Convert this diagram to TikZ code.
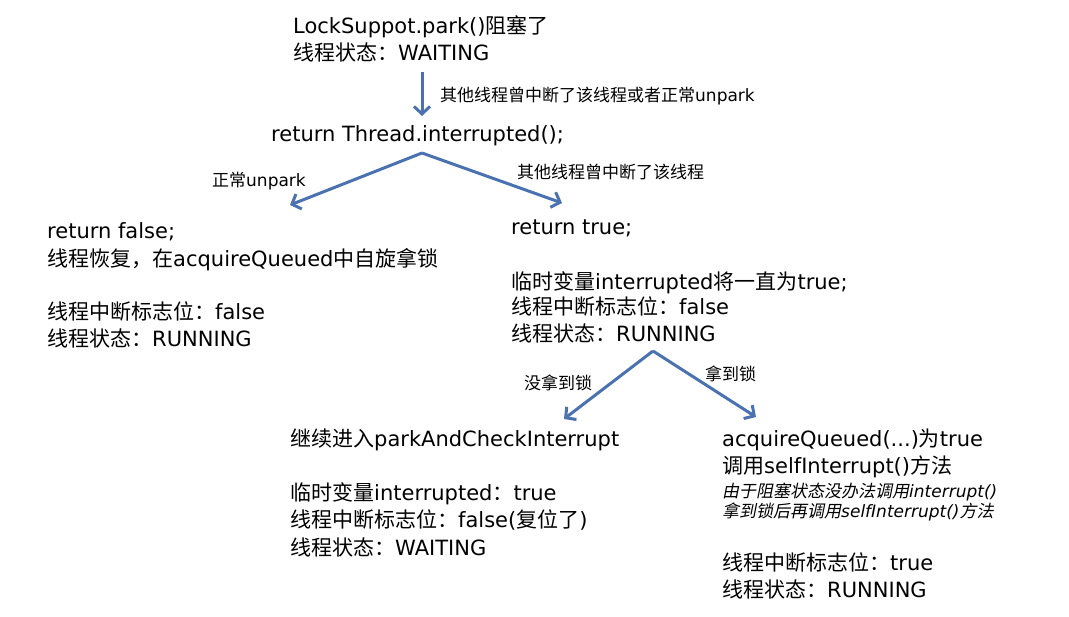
\documentclass[tikz,border=0pt]{standalone}
\usepackage{fontspec}
\setmainfont{DejaVu Sans}
\newfontfamily\cjk{Noto Sans CJK SC}
\newfontfamily\cjkit{Noto Sans CJK SC}[FakeSlant=0.2]
\usetikzlibrary{arrows.meta}
\definecolor{arrowblue}{RGB}{74,114,176}
\newcommand\zh[1]{{\cjk #1}}
\newcommand\zhi[1]{{\cjkit #1}}
\begin{document}
\begin{tikzpicture}[x=1pt,y=-1pt,
  txt/.style={anchor=base west, inner sep=0pt, font=\fontsize{21}{27}\selectfont},
  lbl/.style={anchor=base west, inner sep=0pt, font=\fontsize{17}{20}\selectfont},
  note/.style={anchor=base west, inner sep=0pt, font=\fontsize{17}{20}\selectfont\itshape},
  flow/.style={draw=arrowblue, line width=3pt, -{Straight Barb[length=7.5pt,width=16pt]}}]
\useasboundingbox (0,0) rectangle (1069,617);
% top
\node[txt] (t1) at (293,34) {LockSuppot.park()\zh{阻塞了}};
\node[txt] (t2) at (293,61) {\zh{线程状态：}WAITING};
\node[lbl] (l1) at (440,102) {\zh{其他线程曾中断了该线程或者正常}unpark};
\node[txt] (ret) at (271,142) {return Thread.interrupted();};
% branch labels
\node[lbl] (l2) at (212,187) {\zh{正常}unpark};
\node[lbl] (l3) at (517,179) {\zh{其他线程曾中断了该线程}};
% left block
\node[txt] (f1) at (47,239) {return false;};
\node[txt] (f2) at (47,267) {\zh{线程恢复，在}acquireQueued\zh{中自旋拿锁}};
\node[txt] (f3) at (47,320) {\zh{线程中断标志位：}false};
\node[txt] (f4) at (47,347) {\zh{线程状态：}RUNNING};
% right block
\node[txt] (r1) at (511,235) {return true;};
\node[txt] (r2) at (511,290) {\zh{临时变量}interrupted\zh{将一直为}true;};
\node[txt] (r3) at (511,315) {\zh{线程中断标志位：}false};
\node[txt] (r4) at (511,342) {\zh{线程状态：}RUNNING};
% second branch labels
\node[lbl] (l4) at (524,390) {\zh{没拿到锁}};
\node[lbl] (l5) at (705,381) {\zh{拿到锁}};
% bottom left
\node[txt] (b1) at (290,447) {\zh{继续进入}parkAndCheckInterrupt};
\node[txt] (b2) at (290,501) {\zh{临时变量}interrupted\zh{：}true};
\node[txt] (b3) at (290,528) {\zh{线程中断标志位：}false(\zh{复位了})};
\node[txt] (b4) at (290,555) {\zh{线程状态：}WAITING};
% bottom right
\node[txt] (c1) at (722,447) {acquireQueued(...)\zh{为}true};
\node[txt] (c2) at (722,474) {\zh{调用}selfInterrupt()\zh{方法}};
\node[note] (c3) at (722,497) {\zhi{由于阻塞状态没办法调用}interrupt()};
\node[note] (c4) at (722,518) {\zhi{拿到锁后再调用}selfInterrupt()\zhi{方法}};
\node[txt] (c5) at (722,570) {\zh{线程中断标志位：}true};
\node[txt] (c6) at (722,597) {\zh{线程状态：}RUNNING};
% connectors
\coordinate (p0) at (422,72);
\coordinate (p0e) at (422,116);
\coordinate (p1) at (422,153);
\coordinate (p1l) at (290,205);
\coordinate (p1r) at (562,203);
\coordinate (p2) at (653,351);
\coordinate (p2l) at (564,419);
\coordinate (p2r) at (756,417);
\draw[flow] (p0) -- (p0e);
\draw[flow] (p1) -- (p1l);
\draw[flow] (p1) -- (p1r);
\draw[flow] (p2) -- (p2l);
\draw[flow] (p2) -- (p2r);
\end{tikzpicture}
\end{document}
